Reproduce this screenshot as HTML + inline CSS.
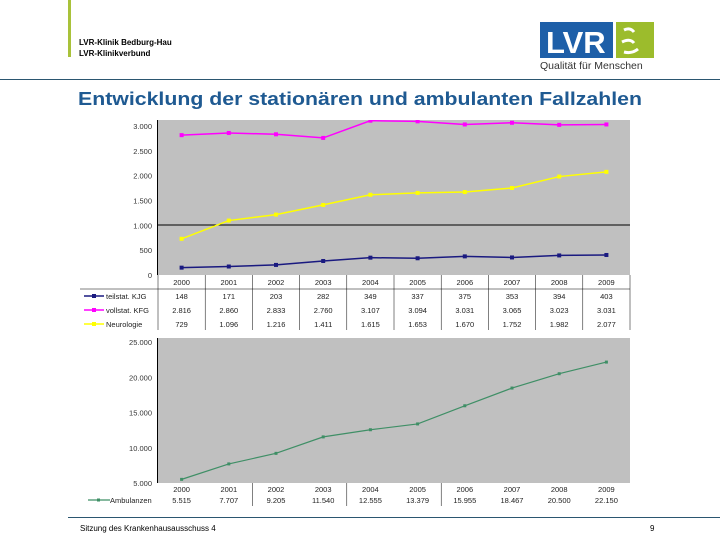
<!DOCTYPE html>
<html><head><meta charset="utf-8"><style>
body{margin:0;background:#fff;width:720px;height:540px;overflow:hidden;font-family:"Liberation Sans",sans-serif}
</style></head><body>
<svg width="720" height="540" xmlns="http://www.w3.org/2000/svg" font-family="Liberation Sans, sans-serif">
<rect x="68" y="0" width="3" height="57" fill="#a9c23a"/>
<text x="79" y="45" font-size="8" font-weight="bold">LVR-Klinik Bedburg-Hau</text>
<text x="79" y="56" font-size="8" font-weight="bold">LVR-Klinikverbund</text>
<g>
<rect x="540" y="22" width="73" height="36" fill="#1e5fa8"/>
<text x="546" y="53" font-size="31" font-weight="bold" fill="#fff">LVR</text>
<rect x="616" y="22" width="38" height="36" fill="#9cbc2c"/>
<path d="M624 30 q6 -3 10 2 M622 42 q8 -4 12 1 M624 52 q8 2 14 -3" stroke="#fff" stroke-width="3" fill="none"/>
<text x="540" y="69" font-size="10.5" fill="#333">Qualität für Menschen</text>
</g>
<line x1="0" y1="79.5" x2="720" y2="79.5" stroke="#2b5670" stroke-width="1"/>
<text x="78" y="105" font-size="18.5" font-weight="bold" fill="#1f5a92" textLength="564" lengthAdjust="spacingAndGlyphs">Entwicklung der stationären und ambulanten Fallzahlen</text>
<g id="top"></g>
<g id="bot"></g>
<line x1="68" y1="517.5" x2="720" y2="517.5" stroke="#2b5670"/>
<text x="80" y="531" font-size="8">Sitzung des Krankenhausausschuss 4</text>
<text x="650" y="531" font-size="8">9</text>
</svg>
<script>
const years=["2000","2001","2002","2003","2004","2005","2006","2007","2008","2009"];
const teilstat=[148,171,203,282,349,337,375,353,394,403];
const vollstat=[2816,2860,2833,2760,3107,3094,3031,3065,3023,3031];
const neuro=[729,1096,1216,1411,1615,1653,1670,1752,1982,2077];
const ambulant=[5515,7707,9205,11540,12555,13379,15955,18467,20500,22150];
const topTicks=[0,500,1000,1500,2000,2500,3000];
const botTicks=[5000,10000,15000,20000,25000];
const NS="http://www.w3.org/2000/svg";
function mk(p,t,a){const e=document.createElementNS(NS,t);for(const k in a)e.setAttribute(k,a[k]);p.appendChild(e);return e;}
function fmt(v){return v>=1000?Math.floor(v/1000)+"."+String(v%1000).padStart(3,"0"):String(v);}
const X0=158,X1=630,cw=(X1-X0)/years.length;
function xc(i){return X0+cw*(i+0.5);}
const tg=document.getElementById('top');
const ty=v=>275-v*(275-126)/3000;
const pa=mk(tg,'rect',{x:X0,y:120,width:X1-X0,height:155,fill:'#c0c0c0'});


mk(tg,'line',{x1:X0,y1:225,x2:X1,y2:225,stroke:'#000','stroke-width':1});
mk(tg,'line',{x1:X0-0.5,y1:120,x2:X0-0.5,y2:275,stroke:'#000'});
topTicks.forEach(t=>{const e=mk(tg,'text',{x:152,y:ty(t)+3,'font-size':7.5,'text-anchor':'end',fill:'#333'});e.textContent=fmt(t);

});
const cp=mk(tg,'clipPath',{id:'cp'});mk(cp,'rect',{x:X0,y:120,width:X1-X0,height:156});
const series=[[teilstat,'#1a1a80','teilstat. KJG','teilstat-line'],[vollstat,'#ff00ff','vollstat. KFG','vollstat-line'],[neuro,'#ffff00','Neurologie','neurologie-line']];
series.forEach(([d,c,n,nm])=>{
 const g=mk(tg,'g',{'clip-path':'url(#cp)'});
 const pl=mk(g,'polyline',{points:d.map((v,i)=>xc(i)+','+ty(v)).join(' '),fill:'none',stroke:c,'stroke-width':1.5});
 
 
 d.forEach((v,i)=>{const r=mk(g,'rect',{x:xc(i)-2,y:ty(v)-2,width:4,height:4,fill:c});
 
 });
});
const rows=[275,289,303,317,330];
mk(tg,'line',{x1:X0,y1:289,x2:X1,y2:289,stroke:'#000','stroke-width':0.5});
mk(tg,'line',{x1:80,y1:289,x2:X0,y2:289,stroke:'#000','stroke-width':0.5});
for(let i=0;i<=years.length;i++)mk(tg,'line',{x1:X0+cw*i,y1:275,x2:X0+cw*i,y2:330,stroke:'#000','stroke-width':0.5});
years.forEach((y,i)=>{const e=mk(tg,'text',{x:xc(i),y:285,'font-size':7.5,'text-anchor':'middle',fill:'#222'});e.textContent=y;

});
series.forEach(([d,c,n,nm],r)=>{
 const yy=rows[r+1]+10;
 mk(tg,'line',{x1:84,y1:yy-3,x2:104,y2:yy-3,stroke:c,'stroke-width':1.5});
 mk(tg,'rect',{x:92,y:yy-5,width:4,height:4,fill:c});
 const l=mk(tg,'text',{x:106,y:yy,'font-size':7.5,fill:'#222'});l.textContent=n;
 
 
 d.forEach((v,i)=>{const e=mk(tg,'text',{x:xc(i),y:yy,'font-size':7.5,'text-anchor':'middle',fill:'#222'});e.textContent=fmt(v);
 
 });
});
const bg=document.getElementById('bot');
const by=v=>483-(v-5000)*(483-342)/20000;
const pb=mk(bg,'rect',{x:X0,y:338,width:X1-X0,height:145,fill:'#c0c0c0'});


mk(bg,'line',{x1:X0-0.5,y1:338,x2:X0-0.5,y2:483,stroke:'#000'});
botTicks.forEach(t=>{const e=mk(bg,'text',{x:152,y:by(t)+3,'font-size':7.5,'text-anchor':'end',fill:'#333'});e.textContent=fmt(t);

});
const ac='#3f8f66';
const pl2=mk(bg,'polyline',{points:ambulant.map((v,i)=>xc(i)+','+by(v)).join(' '),fill:'none',stroke:ac,'stroke-width':1.2});


ambulant.forEach((v,i)=>{const r=mk(bg,'rect',{x:xc(i)-1.5,y:by(v)-1.5,width:3,height:3,fill:ac});

});
[2,4,6].forEach(k=>mk(bg,'line',{x1:X0+cw*k,y1:483,x2:X0+cw*k,y2:506,stroke:'#000','stroke-width':0.5}));
years.forEach((y,i)=>{const e=mk(bg,'text',{x:xc(i),y:492,'font-size':7.5,'text-anchor':'middle',fill:'#222'});e.textContent=y;

});
mk(bg,'line',{x1:88,y1:500,x2:110,y2:500,stroke:ac,'stroke-width':1.2});
mk(bg,'rect',{x:97,y:498.5,width:3,height:3,fill:ac});
const la=mk(bg,'text',{x:110,y:503,'font-size':7.5,fill:'#222'});la.textContent='Ambulanzen';


ambulant.forEach((v,i)=>{const e=mk(bg,'text',{x:xc(i),y:503,'font-size':7.5,'text-anchor':'middle',fill:'#222'});e.textContent=fmt(v);

});
</script>
</body></html>
